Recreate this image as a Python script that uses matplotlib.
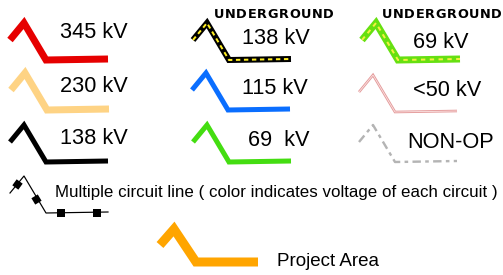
import matplotlib
matplotlib.use('Agg')
import matplotlib.pyplot as plt
import numpy as np

# shape of the legend symbol (relative to its left end, in pixels)
shape_x = [0, 14, 36, 98]
shape_y = [0, -17, 20, 19]

# legend entries
labels = ['345 kV', '230 kV', '138 kV', '138 kV', '115 kV', '69  kV', '69 kV', '<50 kV', 'NON-OP']
origins = [(10, 40), (11, 90), (10, 142), (193, 40), (192, 90), (193, 142), (362, 40), (359, 92), (359, 142)]
label_pos = [(60, 33), (60, 87), (60, 139), (242, 39), (242, 88), (248, 140), (413, 43), (413, 91), (407, 142)]
underground_pos = [(214, 15), (382, 15)]

multi_origin = (10, 193)
multi_marks = [(17, 184, 9), (36, 199, -14), (61, 213, 45), (97, 213, 45)]
multi_text = 'Multiple circuit line ( color indicates voltage of each circuit )'

project_origin = (160, 245)
project_shape_y = [0, -16, 17, 17]

W, H = 503, 275
fig = plt.figure(figsize=(W / 100, H / 100), dpi=100)
ax = fig.add_axes([0, 0, 1, 1])
ax.set_xlim(0, W)
ax.set_ylim(H, 0)
ax.axis('off')

def pt(px):
    return px * 72 / 100

def xy(o, sy=shape_y):
    return [o[0] + v for v in shape_x], [o[1] + v for v in sy]

solid = dict(solid_capstyle='butt', solid_joinstyle='miter')

# plain voltage lines
styles = [('#e60000', 7), ('#fed384', 7), ('#000000', 5), None, ('#0a6eff', 5), ('#44dd11', 5), None, None, None]
for o, s in zip(origins, styles):
    if s is None:
        continue
    x, y = xy(o)
    ax.plot(x, y, color=s[0], lw=pt(s[1]), **solid)

# underground 138 kV
x, y = xy(origins[3])
ax.plot(x, y, color='black', lw=pt(6), **solid)
ax.plot(x, y, color='#ffee22', lw=pt(2), dashes=(2.2, 1.8), dash_capstyle='butt', solid_joinstyle='miter')
# underground 69 kV
x, y = xy(origins[6])
ax.plot(x, y, color='#66e011', lw=pt(7), **solid)
ax.plot(x, y, color='#f4f040', lw=pt(2), dashes=(2.2, 2.2), dash_capstyle='butt', solid_joinstyle='miter')
# <50 kV
x, y = xy(origins[7])
ax.plot(x, y, color='#e49a9a', lw=pt(2.6), **solid)
ax.plot(x, y, color='#fbe6e6', lw=pt(0.8), **solid)
# non-op
x, y = xy(origins[8])
ax.plot(x, y, color='#b4b4b4', lw=pt(2.4), dashes=(3.5, 1.8, 1.5, 1.8), dash_capstyle='butt')

for (tx, ty), lab in zip(label_pos, labels):
    ax.text(tx, ty, lab, fontsize=15.7, family='Liberation Sans', va='center', ha='left', color='black')

# letter-spaced UNDERGROUND
fig.canvas.draw()
r = fig.canvas.get_renderer()
for ux, uy in underground_pos:
    cx = ux
    for ch in 'UNDERGROUND':
        t = ax.text(cx, uy, ch, fontsize=9.3, family='DejaVu Sans', weight='bold', va='center', ha='left')
        bb = t.get_window_extent(renderer=r)
        cx += bb.width + 0.6

# multiple circuit
x, y = xy(multi_origin)
ax.plot(x, y, color='black', lw=pt(1.2))
for mx, my, ang in multi_marks:
    ax.plot(mx, my, marker=(4, 0, ang), color='black', ms=pt(10.5), mew=0)
ax.text(55, 193, multi_text, fontsize=12.2, family='Liberation Sans', va='center', ha='left')

# project area
x, y = xy(project_origin, project_shape_y)
ax.plot(x, y, color='#ffa500', lw=pt(9), **solid)
ax.text(277, 261, 'Project Area', fontsize=13.5, family='Liberation Sans', va='center', ha='left')

fig.savefig('out.png', dpi=100)
